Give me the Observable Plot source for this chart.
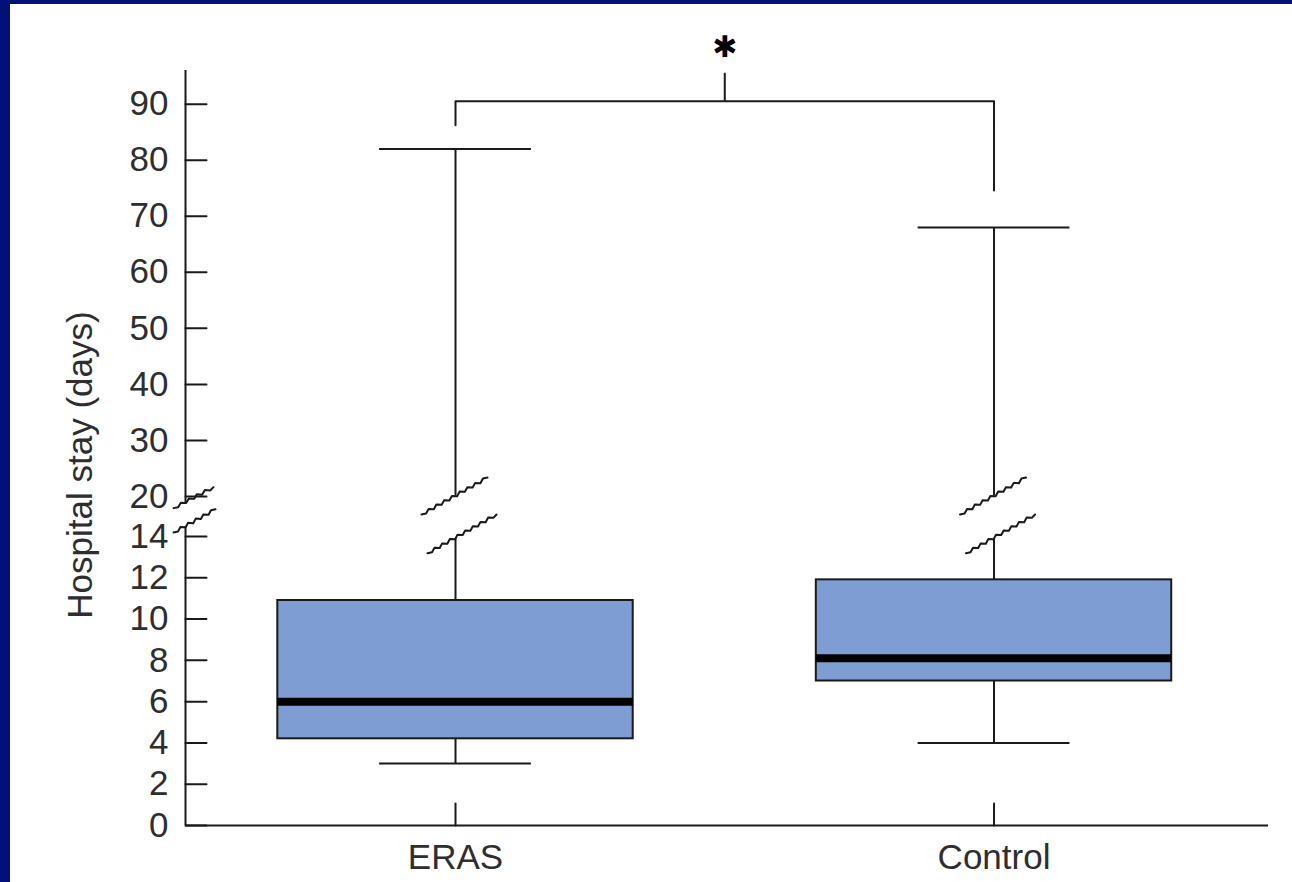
<!DOCTYPE html>
<html><head><meta charset="utf-8">
<script src="https://cdn.jsdelivr.net/npm/d3@7"></script>
<script src="https://cdn.jsdelivr.net/npm/@observablehq/plot@0.6"></script>
<style>
html,body{margin:0;padding:0;background:#fff;width:1292px;height:882px;overflow:hidden;}
#chart{position:absolute;left:0;top:0;}
.bar-top{position:absolute;left:0;top:0;width:1292px;height:4px;background:#021178;}
.bar-left{position:absolute;left:0;top:0;width:10px;height:882px;background:#021178;}
</style></head><body>
<div id="chart"></div><div class="bar-top"></div><div class="bar-left"></div>
<script>
// ---- data ----
const groups = ["ERAS", "Control"];
const mins = [3, 4];
const q1s = [4.2, 7];
const medians = [6, 8.1];
const q3s = [10.9, 11.9];
const maxs = [82, 68];
const yTicks = [0, 2, 4, 6, 8, 10, 12, 14, 20, 30, 40, 50, 60, 70, 80, 90];
const yBreak = [14, 20];
const bracketY = [86.25, 90.5, 90.5, 74.6];
const bracketTop = 95.5;
const starY = 100.2;
const yTitle = "Hospital stay (days)";

// ---- derived table ----
const rows = groups.map((g, i) => ({group: g, x: i + 1, min: mins[i], q1: q1s[i], median: medians[i], q3: q3s[i], max: maxs[i]}));
const bracket = bracketY.map((y, i) => ({x: i < 2 ? 1 : 2, y}));
const breakMid = (yBreak[0] + yBreak[1]) / 2;

const xDomain = [0.4986, 2.5097];
const yDomain = [0, yBreak[0], yBreak[1], 96];
const yRange = [825, 536, 496, 70];
const boxHalf = 0.33, capHalf = 0.141;
const ink = "#1a1a1a";
const textInk = "#2e2e2e";

function zigzag(ctx, x0, y0, x1, y1, amp = 1.4, step = 4.5) {
  const dx = x1 - x0, dy = y1 - y0, L = Math.hypot(dx, dy), n = Math.max(2, Math.round(L / step));
  const px = -dy / L, py = dx / L;
  ctx.moveTo(x0, y0);
  for (let i = 1; i <= n; i++) {
    const t = i / n, s = i === n ? 0 : (i % 2 ? amp : -amp);
    ctx.lineTo(x0 + dx * t + px * s, y0 + dy * t + py * s);
  }
}
const wU = [-34, -2, 32, -38.9], wL = [-28, 36.7, 41, -2];
const aU = [-12, -5.7, 28, -26.7], aL = [-12, 18.6, 30, -4.5];
const maskShape = (U, Lo) => ({draw(ctx) { ctx.moveTo(U[0], U[1]); ctx.lineTo(U[2], U[3]); ctx.lineTo(Lo[2], Lo[3]); ctx.lineTo(Lo[0], Lo[1]); ctx.closePath(); }});
const lineShape = (U, Lo) => ({draw(ctx) { zigzag(ctx, ...U); zigzag(ctx, ...Lo); }});
const tickLine = {draw(ctx, l) { ctx.moveTo(0, 0); ctx.lineTo(0, -l); }};

const plot = Plot.plot({
  width: 1292, height: 882,
  marginLeft: 185, marginRight: 24, marginTop: 70, marginBottom: 57,
  style: {fontFamily: "'Liberation Sans', Arial, sans-serif", color: ink, background: "#fff"},
  x: {type: "linear", domain: xDomain},
  y: {type: "linear", domain: yDomain, range: yRange},
  marks: [
    // axes lines
    Plot.ruleY([0], {stroke: ink, strokeWidth: 2}),
    Plot.ruleX([xDomain[0]], {y1: 0, y2: yDomain[3], stroke: ink, strokeWidth: 2}),
    // whiskers
    Plot.ruleX(rows, {x: "x", y1: "q3", y2: "max", stroke: ink, strokeWidth: 2}),
    Plot.ruleX(rows, {x: "x", y1: "min", y2: "q1", stroke: ink, strokeWidth: 2}),
    Plot.ruleY(rows, {y: "max", x1: d => d.x - capHalf, x2: d => d.x + capHalf, stroke: ink, strokeWidth: 2}),
    Plot.ruleY(rows, {y: "min", x1: d => d.x - capHalf, x2: d => d.x + capHalf, stroke: ink, strokeWidth: 2}),
    // breaks: masks then zigzag lines
    Plot.vector(rows, {x: "x", y: () => breakMid, length: 10, anchor: "start", shape: maskShape(wU, wL), fill: "white", stroke: "none"}),
    Plot.vector([0], {y: () => breakMid + 0.4, frameAnchor: "left", length: 10, anchor: "start", shape: maskShape(aU, aL), fill: "white", stroke: "none"}),
    Plot.vector(rows, {x: "x", y: () => breakMid, length: 10, anchor: "start", shape: lineShape(wU, wL), stroke: ink, strokeWidth: 2}),
    Plot.vector([0], {y: () => breakMid + 0.4, frameAnchor: "left", length: 10, anchor: "start", shape: lineShape(aU, aL), stroke: ink, strokeWidth: 2}),
    // boxes
    Plot.rect(rows, {x1: d => d.x - boxHalf, x2: d => d.x + boxHalf, y1: "q1", y2: "q3", fill: "#7e9ed3", stroke: ink, strokeWidth: 2}),
    Plot.ruleY(rows, {y: "median", x1: d => d.x - boxHalf, x2: d => d.x + boxHalf, stroke: "#000", strokeWidth: 8}),
    // ticks
    Plot.vector(yTicks, {y: d => d, frameAnchor: "left", rotate: 90, length: 21, anchor: "start", shape: tickLine, stroke: ink, strokeWidth: 2}),
    Plot.vector(rows, {x: "x", y: () => 0, length: 22, anchor: "start", shape: tickLine, stroke: ink, strokeWidth: 2}),
    Plot.axisY({ticks: yTicks, tickSize: 0, tickPadding: 17, fontSize: 35, label: null, fill: textInk, tickFormat: d => String(d)}),
    Plot.axisX({ticks: [1, 2], tickSize: 0, tickPadding: 19, fontSize: 35, label: null, fill: textInk, tickFormat: d => groups[d - 1]}),
    Plot.text([yTitle], {frameAnchor: "left", rotate: -90, dx: -105, dy: 17, fontSize: 35, fill: textInk, textAnchor: "middle", lineAnchor: "middle"}),
    // significance bracket
    Plot.line(bracket, {x: "x", y: "y", stroke: ink, strokeWidth: 2}),
    Plot.ruleX([1.5], {y1: bracketY[1], y2: bracketTop, stroke: ink, strokeWidth: 2}),
    Plot.text(["✱"], {x: () => 1.5, y: () => starY, fontSize: 30, fontWeight: "bold", fill: "#000", fontFamily: "DejaVu Sans"})
  ]
});
document.getElementById("chart").appendChild(plot);
</script>
</body></html>
